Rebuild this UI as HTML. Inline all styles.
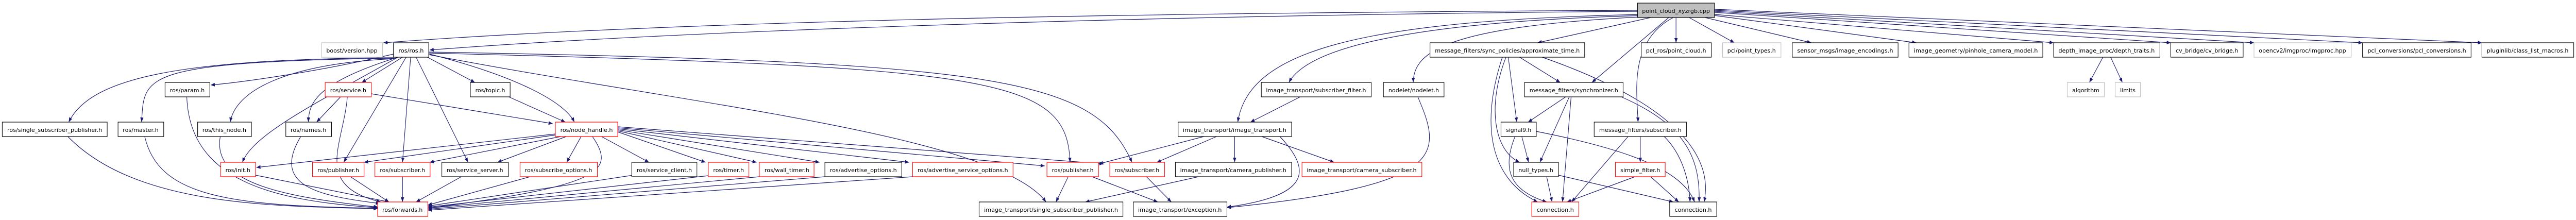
<!DOCTYPE html>
<html><head><meta charset="utf-8"><style>
html,body{margin:0;padding:0;background:#fff;width:100%;height:100%;overflow:hidden}
svg{display:block;width:100vw;height:100vh}
text{font-family:"DejaVu Sans","Liberation Sans",sans-serif;font-size:11px;fill:#000}
.e path{fill:none;stroke:#191970;stroke-width:1.2}
rect{fill:#fff;stroke-width:1.2}
.k{stroke:#000}.r{stroke:#f00}.g{stroke:#bfbfbf}
</style></head><body>
<svg viewBox="0 0 5696 427" preserveAspectRatio="none" xmlns="http://www.w3.org/2000/svg">
<defs><marker id="a" viewBox="0 0 10 10" refX="10" refY="5" markerWidth="9" markerHeight="9" orient="auto" markerUnits="userSpaceOnUse"><path d="M0 1 L10 5 L0 9 z" fill="#191970"/></marker></defs>
<g class="e">
<path d="M3621 20 C2500 25,1500 40,848 83" marker-end="url(#a)"/>
<path d="M3621 22 C2500 30,1500 60,950 97" marker-end="url(#a)"/>
<path d="M3640 30 C3200 40,2900 80,2850 160" marker-end="url(#a)"/>
<path d="M3630 28 C3000 40,2760 100,2737 237" marker-end="url(#a)"/>
<path d="M3650 32 C3200 50,3125 100,3125 160" marker-end="url(#a)"/>
<path d="M3650 34 L3400 83" marker-end="url(#a)"/>
<path d="M3690 34 L3520 160" marker-end="url(#a)"/>
<path d="M3700 34 C3600 80,3620 180,3622 237" marker-end="url(#a)"/>
<path d="M3706 34 L3706 83" marker-end="url(#a)"/>
<path d="M3735 34 L3835 83" marker-end="url(#a)"/>
<path d="M3770 34 L4005 83" marker-end="url(#a)"/>
<path d="M3791 30 L4237 83" marker-end="url(#a)"/>
<path d="M3791 28 L4541 83" marker-end="url(#a)"/>
<path d="M3791 24 L4800 83" marker-end="url(#a)"/>
<path d="M3791 22 L4984 83" marker-end="url(#a)"/>
<path d="M3791 20 L5224 83" marker-end="url(#a)"/>
<path d="M3791 18 L5488 83" marker-end="url(#a)"/>
<path d="M870 105 C700 140,530 160,466 165" marker-end="url(#a)"/>
<path d="M890 111 L800 160" marker-end="url(#a)"/>
<path d="M945 111 L1050 160" marker-end="url(#a)"/>
<path d="M870 112 C400 115,200 150,152 237" marker-end="url(#a)"/>
<path d="M870 113 C300 120,320 150,313 237" marker-end="url(#a)"/>
<path d="M870 114 C620 125,520 180,509 237" marker-end="url(#a)"/>
<path d="M880 111 C700 160,682 200,682 237" marker-end="url(#a)"/>
<path d="M950 105 C1150 150,1250 200,1270 237" marker-end="url(#a)"/>
<path d="M880 111 C700 200,560 260,536 315" marker-end="url(#a)"/>
<path d="M898 111 L760 315" marker-end="url(#a)"/>
<path d="M908 111 L890 315" marker-end="url(#a)"/>
<path d="M920 111 L1035 315" marker-end="url(#a)"/>
<path d="M948 103 C2200 130,2360 150,2366 315" marker-end="url(#a)"/>
<path d="M948 101 C2200 120,2420 150,2503 315" marker-end="url(#a)"/>
<path d="M948 106 C1500 200,2200 260,2313 392" marker-end="url(#a)"/>
<path d="M753 188 L700 237" marker-end="url(#a)"/>
<path d="M821 182 L1222 240" marker-end="url(#a)"/>
<path d="M768 188 C760 280,690 360,842 392" marker-end="url(#a)"/>
<path d="M1125 188 L1250 237" marker-end="url(#a)"/>
<path d="M1228 260 L567 325" marker-end="url(#a)"/>
<path d="M1228 262 L805 315" marker-end="url(#a)"/>
<path d="M1240 265 L950 315" marker-end="url(#a)"/>
<path d="M1252 265 L1100 315" marker-end="url(#a)"/>
<path d="M1285 265 L1253 315" marker-end="url(#a)"/>
<path d="M1330 265 L1435 315" marker-end="url(#a)"/>
<path d="M1366 256 L1560 315" marker-end="url(#a)"/>
<path d="M1366 254 L1673 315" marker-end="url(#a)"/>
<path d="M1366 252 L1812 315" marker-end="url(#a)"/>
<path d="M1366 250 L2010 315" marker-end="url(#a)"/>
<path d="M1366 248 L2310 322" marker-end="url(#a)"/>
<path d="M1366 246 L2440 318" marker-end="url(#a)"/>
<path d="M1310 265 C1360 330,1340 360,946 404" marker-end="url(#a)"/>
<path d="M150 265 C300 400,600 400,835 405" marker-end="url(#a)"/>
<path d="M320 265 C350 380,500 400,835 404" marker-end="url(#a)"/>
<path d="M487 265 C470 350,600 380,836 402" marker-end="url(#a)"/>
<path d="M665 265 C600 360,700 380,840 395" marker-end="url(#a)"/>
<path d="M413 188 C420 350,600 390,835 403" marker-end="url(#a)"/>
<path d="M565 340 L860 392" marker-end="url(#a)"/>
<path d="M775 343 L860 392" marker-end="url(#a)"/>
<path d="M890 343 L890 392" marker-end="url(#a)"/>
<path d="M1020 343 L920 392" marker-end="url(#a)"/>
<path d="M1172 343 L946 398" marker-end="url(#a)"/>
<path d="M1400 340 L946 400" marker-end="url(#a)"/>
<path d="M1566 341 L946 402" marker-end="url(#a)"/>
<path d="M1679 343 L946 404" marker-end="url(#a)"/>
<path d="M1824 343 L946 406" marker-end="url(#a)"/>
<path d="M2018 343 L946 408" marker-end="url(#a)"/>
<path d="M2662 265 L2430 318" marker-end="url(#a)"/>
<path d="M2690 265 L2558 315" marker-end="url(#a)"/>
<path d="M2730 265 L2730 315" marker-end="url(#a)"/>
<path d="M2790 265 L2950 315" marker-end="url(#a)"/>
<path d="M2830 265 C2900 330,2900 380,2713 402" marker-end="url(#a)"/>
<path d="M2875 188 L2765 237" marker-end="url(#a)"/>
<path d="M2650 343 L2400 392" marker-end="url(#a)"/>
<path d="M2362 343 L2335 392" marker-end="url(#a)"/>
<path d="M2415 343 L2560 392" marker-end="url(#a)"/>
<path d="M2535 343 L2590 392" marker-end="url(#a)"/>
<path d="M3135 188 C3190 300,3200 360,2713 403" marker-end="url(#a)"/>
<path d="M3360 111 L3450 160" marker-end="url(#a)"/>
<path d="M3335 111 L3354 237" marker-end="url(#a)"/>
<path d="M3330 111 C3290 200,3300 290,3360 315" marker-end="url(#a)"/>
<path d="M3322 111 C3270 250,3300 350,3400 392" marker-end="url(#a)"/>
<path d="M3410 111 C3700 200,3790 300,3768 392" marker-end="url(#a)"/>
<path d="M3462 188 L3379 237" marker-end="url(#a)"/>
<path d="M3470 188 L3405 315" marker-end="url(#a)"/>
<path d="M3474 188 L3455 392" marker-end="url(#a)"/>
<path d="M3585 188 C3720 240,3760 300,3757 392" marker-end="url(#a)"/>
<path d="M3365 265 L3380 315" marker-end="url(#a)"/>
<path d="M3350 265 C3320 330,3340 370,3420 392" marker-end="url(#a)"/>
<path d="M3397 255 C3600 290,3720 330,3747 392" marker-end="url(#a)"/>
<path d="M3600 265 L3475 392" marker-end="url(#a)"/>
<path d="M3627 265 L3627 315" marker-end="url(#a)"/>
<path d="M3680 265 C3720 300,3735 350,3737 392" marker-end="url(#a)"/>
<path d="M3420 343 L3432 392" marker-end="url(#a)"/>
<path d="M3446 340 L3700 392" marker-end="url(#a)"/>
<path d="M3615 343 L3465 392" marker-end="url(#a)"/>
<path d="M3650 343 L3712 392" marker-end="url(#a)"/>
<path d="M4650 111 L4620 160" marker-end="url(#a)"/>
<path d="M4667 111 L4693 160" marker-end="url(#a)"/>
</g>
<g>
<rect x="3621" y="6" width="170" height="28" class="k" style="fill:#bfbfbf"/><text x="3706" y="25" text-anchor="middle" textLength="150" lengthAdjust="spacingAndGlyphs">point_cloud_xyzrgb.cpp</text>
<rect x="711" y="83" width="135" height="28" class="g"/><text x="778" y="102" text-anchor="middle" textLength="113" lengthAdjust="spacingAndGlyphs">boost/version.hpp</text>
<rect x="870" y="83" width="78" height="28" class="k"/><text x="909" y="102" text-anchor="middle" textLength="56" lengthAdjust="spacingAndGlyphs">ros/ros.h</text>
<rect x="3162" y="83" width="342" height="28" class="k"/><text x="3333" y="102" text-anchor="middle" textLength="320" lengthAdjust="spacingAndGlyphs">message_filters/sync_policies/approximate_time.h</text>
<rect x="3629" y="83" width="155" height="28" class="k"/><text x="3706" y="102" text-anchor="middle" textLength="133" lengthAdjust="spacingAndGlyphs">pcl_ros/point_cloud.h</text>
<rect x="3809" y="83" width="129" height="28" class="g"/><text x="3873" y="102" text-anchor="middle" textLength="107" lengthAdjust="spacingAndGlyphs">pcl/point_types.h</text>
<rect x="3963" y="83" width="234" height="28" class="k"/><text x="4080" y="102" text-anchor="middle" textLength="212" lengthAdjust="spacingAndGlyphs">sensor_msgs/image_encodings.h</text>
<rect x="4221" y="83" width="296" height="28" class="k"/><text x="4369" y="102" text-anchor="middle" textLength="274" lengthAdjust="spacingAndGlyphs">image_geometry/pinhole_camera_model.h</text>
<rect x="4541" y="83" width="235" height="28" class="k"/><text x="4658" y="102" text-anchor="middle" textLength="213" lengthAdjust="spacingAndGlyphs">depth_image_proc/depth_traits.h</text>
<rect x="4800" y="83" width="160" height="28" class="k"/><text x="4880" y="102" text-anchor="middle" textLength="138" lengthAdjust="spacingAndGlyphs">cv_bridge/cv_bridge.h</text>
<rect x="4984" y="83" width="215" height="28" class="g"/><text x="5091" y="102" text-anchor="middle" textLength="193" lengthAdjust="spacingAndGlyphs">opencv2/imgproc/imgproc.hpp</text>
<rect x="5224" y="83" width="240" height="28" class="k"/><text x="5344" y="102" text-anchor="middle" textLength="218" lengthAdjust="spacingAndGlyphs">pcl_conversions/pcl_conversions.h</text>
<rect x="5488" y="83" width="203" height="28" class="k"/><text x="5589" y="102" text-anchor="middle" textLength="181" lengthAdjust="spacingAndGlyphs">pluginlib/class_list_macros.h</text>
<rect x="365" y="160" width="99" height="28" class="k"/><text x="414" y="179" text-anchor="middle" textLength="77" lengthAdjust="spacingAndGlyphs">ros/param.h</text>
<rect x="719" y="160" width="102" height="28" class="r"/><text x="770" y="179" text-anchor="middle" textLength="80" lengthAdjust="spacingAndGlyphs">ros/service.h</text>
<rect x="1040" y="160" width="88" height="28" class="k"/><text x="1084" y="179" text-anchor="middle" textLength="66" lengthAdjust="spacingAndGlyphs">ros/topic.h</text>
<rect x="2789" y="160" width="243" height="28" class="k"/><text x="2910" y="179" text-anchor="middle" textLength="221" lengthAdjust="spacingAndGlyphs">image_transport/subscriber_filter.h</text>
<rect x="3059" y="160" width="134" height="28" class="k"/><text x="3126" y="179" text-anchor="middle" textLength="112" lengthAdjust="spacingAndGlyphs">nodelet/nodelet.h</text>
<rect x="3371" y="160" width="218" height="28" class="k"/><text x="3480" y="179" text-anchor="middle" textLength="196" lengthAdjust="spacingAndGlyphs">message_filters/synchronizer.h</text>
<rect x="4571" y="160" width="82" height="28" class="g"/><text x="4612" y="179" text-anchor="middle" textLength="60" lengthAdjust="spacingAndGlyphs">algorithm</text>
<rect x="4677" y="160" width="56" height="28" class="g"/><text x="4705" y="179" text-anchor="middle" textLength="34" lengthAdjust="spacingAndGlyphs">limits</text>
<rect x="5" y="237" width="232" height="28" class="k"/><text x="121" y="256" text-anchor="middle" textLength="210" lengthAdjust="spacingAndGlyphs">ros/single_subscriber_publisher.h</text>
<rect x="261" y="237" width="101" height="28" class="k"/><text x="311" y="256" text-anchor="middle" textLength="79" lengthAdjust="spacingAndGlyphs">ros/master.h</text>
<rect x="437" y="237" width="119" height="28" class="k"/><text x="496" y="256" text-anchor="middle" textLength="97" lengthAdjust="spacingAndGlyphs">ros/this_node.h</text>
<rect x="632" y="237" width="101" height="28" class="k"/><text x="682" y="256" text-anchor="middle" textLength="79" lengthAdjust="spacingAndGlyphs">ros/names.h</text>
<rect x="1228" y="237" width="138" height="28" class="r"/><text x="1297" y="256" text-anchor="middle" textLength="116" lengthAdjust="spacingAndGlyphs">ros/node_handle.h</text>
<rect x="2605" y="237" width="251" height="28" class="k"/><text x="2730" y="256" text-anchor="middle" textLength="229" lengthAdjust="spacingAndGlyphs">image_transport/image_transport.h</text>
<rect x="3319" y="237" width="78" height="28" class="k"/><text x="3358" y="256" text-anchor="middle" textLength="56" lengthAdjust="spacingAndGlyphs">signal9.h</text>
<rect x="3525" y="237" width="204" height="28" class="k"/><text x="3627" y="256" text-anchor="middle" textLength="182" lengthAdjust="spacingAndGlyphs">message_filters/subscriber.h</text>
<rect x="488" y="315" width="77" height="28" class="r"/><text x="526" y="334" text-anchor="middle" textLength="55" lengthAdjust="spacingAndGlyphs">ros/init.h</text>
<rect x="691" y="315" width="114" height="28" class="r"/><text x="748" y="334" text-anchor="middle" textLength="92" lengthAdjust="spacingAndGlyphs">ros/publisher.h</text>
<rect x="829" y="315" width="122" height="28" class="r"/><text x="890" y="334" text-anchor="middle" textLength="100" lengthAdjust="spacingAndGlyphs">ros/subscriber.h</text>
<rect x="977" y="315" width="147" height="28" class="k"/><text x="1050" y="334" text-anchor="middle" textLength="125" lengthAdjust="spacingAndGlyphs">ros/service_server.h</text>
<rect x="1150" y="315" width="171" height="28" class="r"/><text x="1235" y="334" text-anchor="middle" textLength="149" lengthAdjust="spacingAndGlyphs">ros/subscribe_options.h</text>
<rect x="1397" y="315" width="144" height="28" class="k"/><text x="1469" y="334" text-anchor="middle" textLength="122" lengthAdjust="spacingAndGlyphs">ros/service_client.h</text>
<rect x="1566" y="315" width="90" height="28" class="r"/><text x="1611" y="334" text-anchor="middle" textLength="68" lengthAdjust="spacingAndGlyphs">ros/timer.h</text>
<rect x="1679" y="315" width="121" height="28" class="r"/><text x="1740" y="334" text-anchor="middle" textLength="99" lengthAdjust="spacingAndGlyphs">ros/wall_timer.h</text>
<rect x="1824" y="315" width="170" height="28" class="k"/><text x="1909" y="334" text-anchor="middle" textLength="148" lengthAdjust="spacingAndGlyphs">ros/advertise_options.h</text>
<rect x="2018" y="315" width="222" height="28" class="r"/><text x="2129" y="334" text-anchor="middle" textLength="200" lengthAdjust="spacingAndGlyphs">ros/advertise_service_options.h</text>
<rect x="2315" y="315" width="114" height="28" class="r"/><text x="2372" y="334" text-anchor="middle" textLength="92" lengthAdjust="spacingAndGlyphs">ros/publisher.h</text>
<rect x="2454" y="315" width="121" height="28" class="r"/><text x="2514" y="334" text-anchor="middle" textLength="99" lengthAdjust="spacingAndGlyphs">ros/subscriber.h</text>
<rect x="2599" y="315" width="257" height="28" class="k"/><text x="2727" y="334" text-anchor="middle" textLength="235" lengthAdjust="spacingAndGlyphs">image_transport/camera_publisher.h</text>
<rect x="2879" y="315" width="265" height="28" class="r"/><text x="3011" y="334" text-anchor="middle" textLength="243" lengthAdjust="spacingAndGlyphs">image_transport/camera_subscriber.h</text>
<rect x="3347" y="315" width="99" height="28" class="k"/><text x="3396" y="334" text-anchor="middle" textLength="77" lengthAdjust="spacingAndGlyphs">null_types.h</text>
<rect x="3572" y="315" width="110" height="28" class="r"/><text x="3627" y="334" text-anchor="middle" textLength="88" lengthAdjust="spacingAndGlyphs">simple_filter.h</text>
<rect x="835" y="392" width="111" height="28" class="r"/><text x="890" y="411" text-anchor="middle" textLength="89" lengthAdjust="spacingAndGlyphs">ros/forwards.h</text>
<rect x="2165" y="392" width="318" height="28" class="k"/><text x="2324" y="411" text-anchor="middle" textLength="296" lengthAdjust="spacingAndGlyphs">image_transport/single_subscriber_publisher.h</text>
<rect x="2506" y="392" width="207" height="28" class="k"/><text x="2609" y="411" text-anchor="middle" textLength="185" lengthAdjust="spacingAndGlyphs">image_transport/exception.h</text>
<rect x="3387" y="392" width="104" height="28" class="r"/><text x="3439" y="411" text-anchor="middle" textLength="82" lengthAdjust="spacingAndGlyphs">connection.h</text>
<rect x="3692" y="392" width="104" height="28" class="k"/><text x="3744" y="411" text-anchor="middle" textLength="82" lengthAdjust="spacingAndGlyphs">connection.h</text>
</g>
</svg>
</body></html>
